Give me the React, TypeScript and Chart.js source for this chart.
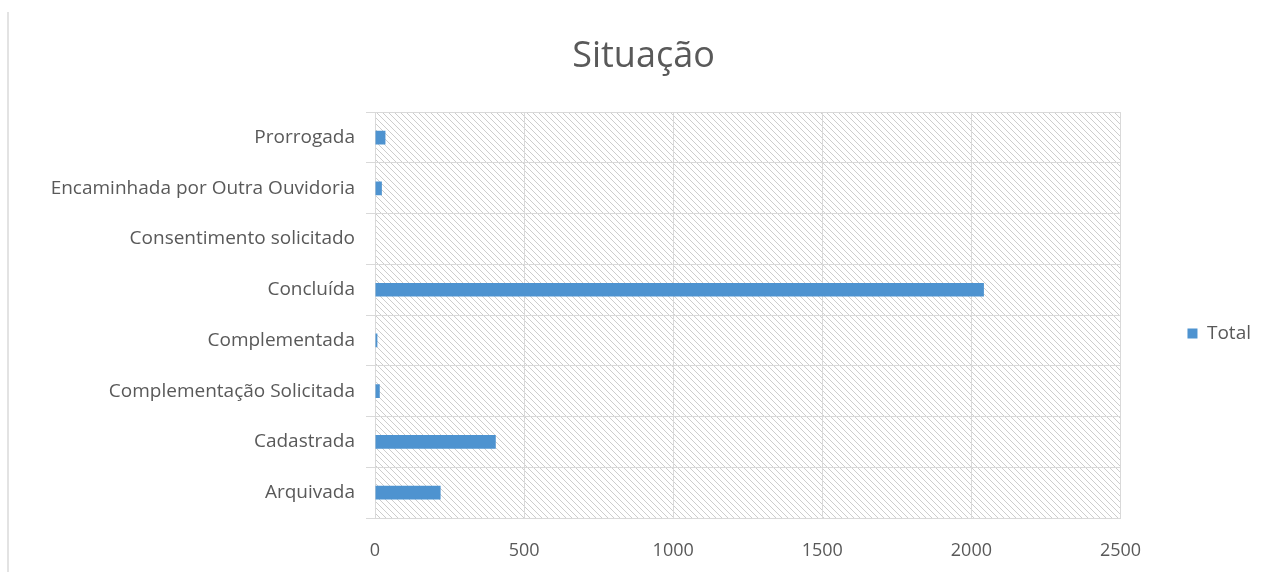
import React, { useEffect, useRef } from "react";
import { Chart, registerables } from "chart.js";

Chart.register(...registerables);

const chartTitle = "Situação";
const categories = [
  "Prorrogada",
  "Encaminhada por Outra Ouvidoria",
  "Consentimento solicitado",
  "Concluída",
  "Complementada",
  "Complementação Solicitada",
  "Cadastrada",
  "Arquivada",
];
const seriesName = "Total";
const totals = [35, 23, 0, 2042, 8, 16, 405, 220];
const xTicks = [0, 500, 1000, 1500, 2000, 2500];

const FONT = "'Open Sans', 'DejaVu Sans', sans-serif";
const TEXT = "#595959";
const GRID = "#d9d9d9";
const BAR = "#4e93d0";

function makeHatch(): CanvasPattern | string {
  const s = 6;
  const tile = document.createElement("canvas");
  tile.width = s;
  tile.height = s;
  const t = tile.getContext("2d");
  if (!t) return "#fff";
  t.fillStyle = "#ffffff";
  t.fillRect(0, 0, s, s);
  t.strokeStyle = "#cdcdcd";
  t.lineWidth = 1;
  t.beginPath();
  t.moveTo(-1, -1);
  t.lineTo(s + 1, s + 1);
  t.moveTo(-1, s - 1);
  t.lineTo(1, s + 1);
  t.moveTo(s - 1, -1);
  t.lineTo(s + 1, 1);
  t.stroke();
  const p = t.createPattern(tile, "repeat");
  return p || "#fff";
}

const hatchPlugin = {
  id: "hatchBg",
  beforeDraw(chart: any) {
    const { ctx, chartArea } = chart;
    if (!chartArea) return;
    ctx.save();
    ctx.fillStyle = makeHatch();
    ctx.fillRect(
      chartArea.left,
      chartArea.top,
      chartArea.right - chartArea.left,
      chartArea.bottom - chartArea.top
    );
    ctx.restore();
  },
};

export default function App() {
  const ref = useRef<HTMLCanvasElement | null>(null);

  useEffect(() => {
    if (!ref.current) return;
    const chart = new Chart(ref.current, {
      type: "bar",
      data: {
        labels: categories,
        datasets: [
          {
            label: seriesName,
            data: totals,
            backgroundColor: BAR,
            borderWidth: 0,
            categoryPercentage: 1,
            barPercentage: 0.27,
          },
        ],
      },
      plugins: [hatchPlugin],
      options: {
        indexAxis: "y",
        responsive: false,
        animation: false,
        layout: { padding: { left: 26, right: 5, top: 10, bottom: 11 } },
        plugins: {
          title: {
            display: true,
            text: chartTitle,
            color: TEXT,
            font: { family: FONT, size: 36, weight: "normal" },
            padding: { top: 25, bottom: 34 },
          },
          legend: {
            display: true,
            position: "right",
            align: "center",
            title: {
              display: true,
              text: " ",
              font: { size: 1 },
              padding: { top: 0, bottom: 95 },
            },
            labels: {
              boxWidth: 10,
              boxHeight: 10,
              padding: 67,
              color: TEXT,
              font: { family: FONT, size: 19 },
            },
          },
          tooltip: { enabled: false },
        },
        scales: {
          x: {
            min: 0,
            max: 2500,
            afterBuildTicks: (scale: any) => {
              scale.ticks = xTicks.map((v) => ({ value: v }));
            },
            afterFit: (scale: any) => {
              scale.height = 43;
            },
            grid: { color: GRID, lineWidth: 1, drawTicks: false },
            border: { color: GRID },
            ticks: {
              color: TEXT,
              padding: 22,
              font: { family: FONT, size: 18 },
              callback: (v: any) => String(v),
            },
          },
          y: {
            afterFit: (scale: any) => {
              scale.width = 349;
            },
            grid: { color: GRID, lineWidth: 1, tickLength: 9, offset: true },
            border: { color: GRID },
            ticks: {
              color: TEXT,
              padding: 11,
              font: { family: FONT, size: 19 },
            },
          },
        },
      },
    } as any);
    return () => chart.destroy();
  }, []);

  return (
    <div style={{ position: "absolute", left: 0, top: 0, width: 1266, height: 572, background: "#fff" }}>
      <div style={{ position: "absolute", left: 7, top: 12, width: 2, height: 560, background: "#e3e3e3" }} />
      <canvas ref={ref} width={1266} height={572} style={{ position: "absolute", left: 0, top: 0, width: 1266, height: 572 }} />
    </div>
  );
}
